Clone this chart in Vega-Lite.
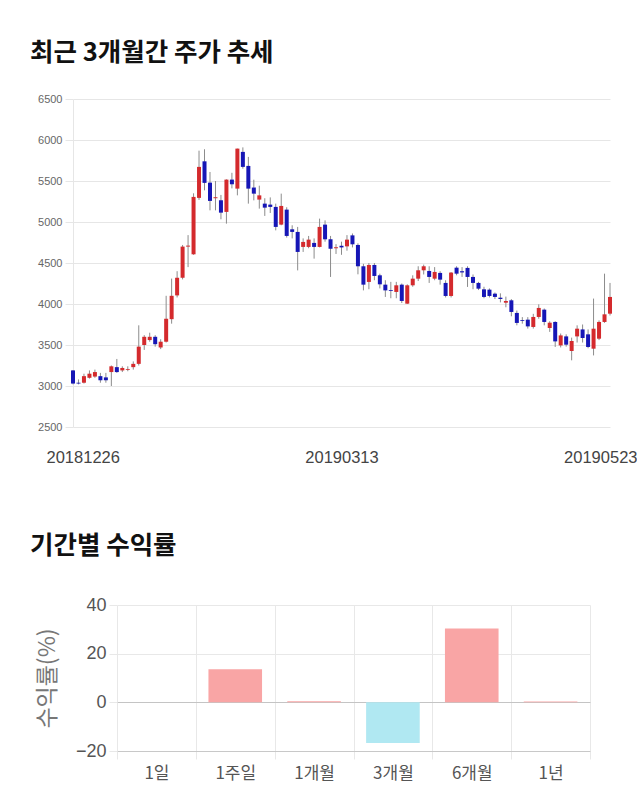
{
  "$schema": "https://vega.github.io/schema/vega-lite/v6.json",
  "background": "white",
  "padding": {"left": 30, "top": 40, "right": 0, "bottom": 16},
  "autosize": {"type": "pad"},
  "config": {"view": {"stroke": null}},
  "spacing": 67,
  "vconcat": [
    {
      "width": 537,
      "height": 328,
      "title": {"text": "최근 3개월간 주가 추세", "anchor": "start", "frame": "group", "dx": -43, "offset": 27, "font": "Noto Sans CJK KR", "fontSize": 25.5, "fontWeight": "bold", "color": "#111111"},
      "data": {"values": [
        {"d":"20181226","o":3190,"h":3195,"l":3020,"c":3030},
        {"d":"20181227","o":3040,"h":3080,"l":3020,"c":3030},
        {"d":"20181228","o":3040,"h":3150,"l":3030,"c":3120},
        {"d":"20190102","o":3100,"h":3190,"l":3090,"c":3150},
        {"d":"20190103","o":3115,"h":3200,"l":3100,"c":3170},
        {"d":"20190104","o":3120,"h":3160,"l":3040,"c":3070},
        {"d":"20190107","o":3105,"h":3160,"l":3040,"c":3070},
        {"d":"20190108","o":3170,"h":3250,"l":3000,"c":3240},
        {"d":"20190109","o":3230,"h":3330,"l":3160,"c":3170},
        {"d":"20190110","o":3190,"h":3240,"l":3170,"c":3220},
        {"d":"20190111","o":3195,"h":3240,"l":3180,"c":3205},
        {"d":"20190114","o":3230,"h":3300,"l":3200,"c":3270},
        {"d":"20190115","o":3270,"h":3740,"l":3250,"c":3480},
        {"d":"20190116","o":3500,"h":3620,"l":3440,"c":3600},
        {"d":"20190117","o":3560,"h":3650,"l":3540,"c":3600},
        {"d":"20190118","o":3600,"h":3620,"l":3480,"c":3510},
        {"d":"20190121","o":3470,"h":3570,"l":3450,"c":3540},
        {"d":"20190122","o":3540,"h":4100,"l":3530,"c":3820},
        {"d":"20190123","o":3815,"h":4310,"l":3760,"c":4100},
        {"d":"20190124","o":4105,"h":4400,"l":4080,"c":4320},
        {"d":"20190125","o":4320,"h":4720,"l":4300,"c":4700},
        {"d":"20190128","o":4700,"h":4840,"l":4450,"c":4712},
        {"d":"20190129","o":4606,"h":5350,"l":4600,"c":5306},
        {"d":"20190130","o":5294,"h":5870,"l":5270,"c":5672},
        {"d":"20190131","o":5740,"h":5887,"l":5386,"c":5477},
        {"d":"20190201","o":5480,"h":5610,"l":5142,"c":5257},
        {"d":"20190207","o":5290,"h":5500,"l":5142,"c":5302},
        {"d":"20190208","o":5265,"h":5330,"l":5033,"c":5114},
        {"d":"20190211","o":5123,"h":5520,"l":4980,"c":5517},
        {"d":"20190212","o":5517,"h":5600,"l":5410,"c":5460},
        {"d":"20190213","o":5407,"h":5895,"l":5325,"c":5895},
        {"d":"20190214","o":5855,"h":5910,"l":5650,"c":5672},
        {"d":"20190215","o":5684,"h":5794,"l":5224,"c":5407},
        {"d":"20190218","o":5420,"h":5516,"l":5264,"c":5346},
        {"d":"20190219","o":5273,"h":5443,"l":5163,"c":5325},
        {"d":"20190220","o":5224,"h":5290,"l":5074,"c":5175},
        {"d":"20190221","o":5212,"h":5300,"l":5110,"c":5184},
        {"d":"20190222","o":5184,"h":5224,"l":4898,"c":4940},
        {"d":"20190225","o":4968,"h":5346,"l":4960,"c":5196},
        {"d":"20190226","o":5151,"h":5180,"l":4810,"c":4830},
        {"d":"20190227","o":4911,"h":4960,"l":4800,"c":4879},
        {"d":"20190228","o":4879,"h":4940,"l":4410,"c":4635},
        {"d":"20190304","o":4696,"h":4800,"l":4635,"c":4757},
        {"d":"20190305","o":4696,"h":4830,"l":4680,"c":4785},
        {"d":"20190306","o":4745,"h":4800,"l":4553,"c":4696},
        {"d":"20190307","o":4696,"h":5041,"l":4690,"c":4940},
        {"d":"20190308","o":4968,"h":5020,"l":4760,"c":4789},
        {"d":"20190311","o":4789,"h":4830,"l":4330,"c":4675},
        {"d":"20190312","o":4680,"h":4730,"l":4610,"c":4692},
        {"d":"20190313","o":4710,"h":4760,"l":4600,"c":4690},
        {"d":"20190314","o":4703,"h":4840,"l":4650,"c":4785},
        {"d":"20190315","o":4837,"h":4860,"l":4690,"c":4728},
        {"d":"20190318","o":4720,"h":4740,"l":4362,"c":4460},
        {"d":"20190319","o":4460,"h":4490,"l":4166,"c":4236},
        {"d":"20190320","o":4269,"h":4500,"l":4180,"c":4476},
        {"d":"20190321","o":4476,"h":4500,"l":4290,"c":4342},
        {"d":"20190322","o":4350,"h":4370,"l":4190,"c":4240},
        {"d":"20190325","o":4236,"h":4290,"l":4086,"c":4166},
        {"d":"20190326","o":4170,"h":4270,"l":4070,"c":4160},
        {"d":"20190327","o":4147,"h":4270,"l":4070,"c":4228},
        {"d":"20190328","o":4236,"h":4250,"l":4012,"c":4037},
        {"d":"20190329","o":4004,"h":4240,"l":4000,"c":4228},
        {"d":"20190401","o":4228,"h":4350,"l":4210,"c":4309},
        {"d":"20190402","o":4309,"h":4460,"l":4280,"c":4411},
        {"d":"20190403","o":4411,"h":4480,"l":4360,"c":4460},
        {"d":"20190404","o":4403,"h":4460,"l":4257,"c":4330},
        {"d":"20190405","o":4309,"h":4450,"l":4290,"c":4391},
        {"d":"20190408","o":4379,"h":4400,"l":4236,"c":4297},
        {"d":"20190409","o":4257,"h":4290,"l":4080,"c":4098},
        {"d":"20190410","o":4098,"h":4390,"l":4080,"c":4383},
        {"d":"20190411","o":4443,"h":4460,"l":4350,"c":4370},
        {"d":"20190412","o":4400,"h":4450,"l":4330,"c":4385},
        {"d":"20190415","o":4440,"h":4460,"l":4208,"c":4330},
        {"d":"20190416","o":4330,"h":4360,"l":4180,"c":4257},
        {"d":"20190417","o":4257,"h":4270,"l":4170,"c":4187},
        {"d":"20190418","o":4179,"h":4210,"l":4070,"c":4086},
        {"d":"20190419","o":4175,"h":4190,"l":4080,"c":4098},
        {"d":"20190422","o":4126,"h":4140,"l":4060,"c":4086},
        {"d":"20190423","o":4077,"h":4130,"l":4020,"c":4061},
        {"d":"20190424","o":4016,"h":4090,"l":3960,"c":4037},
        {"d":"20190425","o":4045,"h":4060,"l":3850,"c":3903},
        {"d":"20190426","o":3891,"h":3920,"l":3740,"c":3769},
        {"d":"20190429","o":3805,"h":3840,"l":3760,"c":3795},
        {"d":"20190430","o":3809,"h":3840,"l":3700,"c":3727},
        {"d":"20190502","o":3720,"h":3880,"l":3700,"c":3842},
        {"d":"20190503","o":3842,"h":3996,"l":3820,"c":3952},
        {"d":"20190507","o":3931,"h":3945,"l":3740,"c":3781},
        {"d":"20190508","o":3707,"h":3790,"l":3660,"c":3772},
        {"d":"20190509","o":3781,"h":3790,"l":3476,"c":3544},
        {"d":"20190510","o":3495,"h":3640,"l":3470,"c":3617},
        {"d":"20190513","o":3605,"h":3630,"l":3480,"c":3504},
        {"d":"20190514","o":3427,"h":3590,"l":3313,"c":3549},
        {"d":"20190515","o":3605,"h":3740,"l":3530,"c":3699},
        {"d":"20190516","o":3690,"h":3750,"l":3530,"c":3585},
        {"d":"20190517","o":3630,"h":3690,"l":3460,"c":3476},
        {"d":"20190520","o":3455,"h":4066,"l":3373,"c":3699},
        {"d":"20190521","o":3577,"h":3800,"l":3560,"c":3781},
        {"d":"20190522","o":3781,"h":4370,"l":3770,"c":3874},
        {"d":"20190523","o":3882,"h":4257,"l":3860,"c":4086}
      ]},
      "encoding": {
        "x": {"field": "d", "type": "ordinal", "scale": {"type": "point", "padding": 0},
          "axis": {"values": ["20181226", "20190313", "20190523"], "title": null, "labelAngle": 0, "ticks": false, "domain": false, "grid": false, "labelFont": "Liberation Sans", "labelFontSize": 16.5, "labelColor": "#444444", "labelPadding": 22, "labelFlush": true, "labelFlushOffset": 27}}
      },
      "layer": [
        {
          "mark": {"type": "rule", "color": "#8c8c8c", "strokeWidth": 1},
          "encoding": {
            "y": {"field": "l", "type": "quantitative", "scale": {"domain": [2500, 6500], "nice": false, "zero": false},
              "axis": {"values": [2500, 3000, 3500, 4000, 4500, 5000, 5500, 6000, 6500], "format": "d", "title": null, "labelFont": "Liberation Sans", "labelFontSize": 11, "labelColor": "#666666", "gridColor": "#e6e6e6", "tickColor": "#e6e6e6", "tickSize": 8, "labelPadding": 3, "domainColor": "#e6e6e6"}},
            "y2": {"field": "h"}
          }
        },
        {
          "mark": {"type": "bar", "size": 4},
          "encoding": {
            "y": {"field": "o", "type": "quantitative"},
            "y2": {"field": "c"},
            "color": {"condition": {"test": "datum.c >= datum.o", "value": "#d42a2d"}, "value": "#1616b6"}
          }
        }
      ]
    },
    {
      "width": 517,
      "height": 146,
      "title": {"text": "기간별 수익률", "anchor": "start", "frame": "group", "dx": -43, "offset": 37, "font": "Noto Sans CJK KR", "fontSize": 25.5, "fontWeight": "bold", "color": "#111111"},
      "data": {"values": [
        {"p": "1일", "v": 0},
        {"p": "1주일", "v": 13.6},
        {"p": "1개월", "v": 0.4},
        {"p": "3개월", "v": -16.7},
        {"p": "6개월", "v": 30.3},
        {"p": "1년", "v": 0.3}
      ]},
      "mark": {"type": "bar", "width": {"band": 0.68}},
      "encoding": {
        "x": {"field": "p", "type": "nominal", "sort": null, "scale": {"paddingInner": 0, "paddingOuter": 0, "range": [44, 517]},
          "axis": {"title": null, "labelAngle": 0, "labelFont": "Noto Sans CJK KR", "labelFontSize": 17, "labelColor": "#555555", "tickBand": "extent", "grid": true, "gridColor": "#e8e8e8", "tickColor": "#e8e8e8", "tickSize": 8, "labelPadding": 6, "domainColor": "#c8c8c8"}},
        "y": {"field": "v", "type": "quantitative", "scale": {"domain": [-20, 40], "nice": false},
          "axis": {"values": [-20, 0, 20, 40], "offset": -44, "title": "수익률(%)", "titleFont": "Noto Sans CJK KR", "titleFontSize": 23, "titleFontWeight": "normal", "titleColor": "#777777", "titlePadding": 16, "labelFont": "Liberation Sans", "labelFontSize": 18, "labelColor": "#555555", "gridColor": {"condition": {"test": "datum.value === 0", "value": "#c4c4c4"}, "value": "#e8e8e8"}, "tickColor": "#e8e8e8", "tickSize": 8, "labelPadding": 3, "domain": false}},
        "color": {"condition": {"test": "datum.v >= 0", "value": "#f9a5a5"}, "value": "#b0e8f2"}
      }
    }
  ]
}
